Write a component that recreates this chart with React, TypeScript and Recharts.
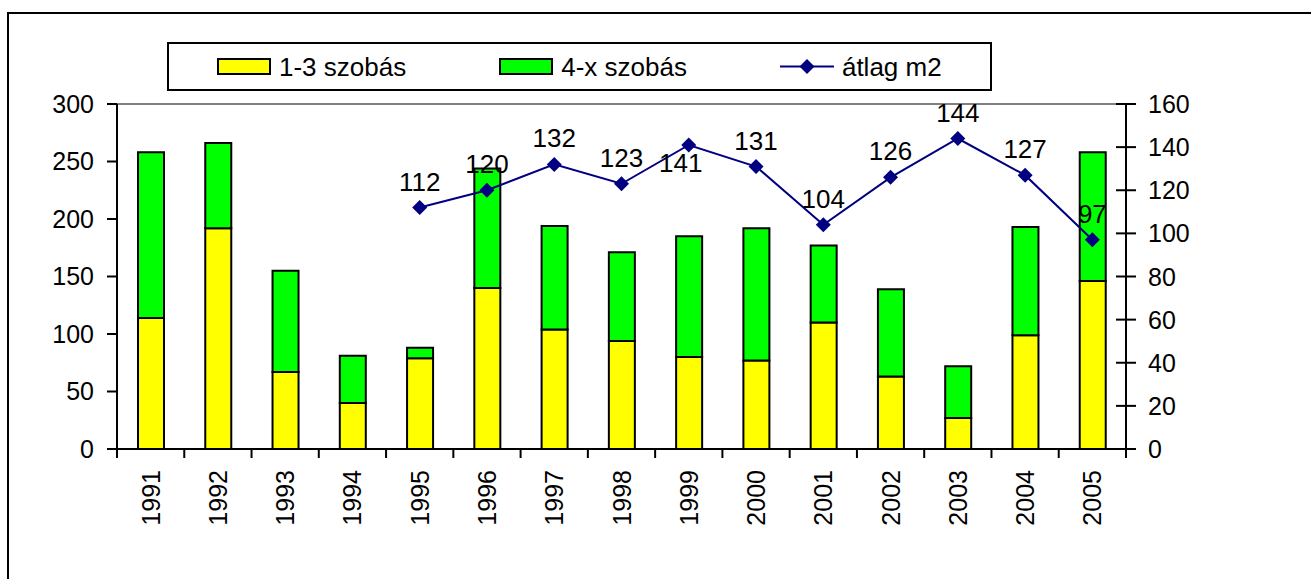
import {
  Bar,
  ComposedChart,
  LabelList,
  Legend,
  Line,
  ReferenceLine,
  XAxis,
  YAxis,
} from "recharts";

const years = [
  "1991", "1992", "1993", "1994", "1995", "1996", "1997", "1998",
  "1999", "2000", "2001", "2002", "2003", "2004", "2005",
];
// 1-3 szobás lakások
const smallFlats = [114, 192, 67, 40, 79, 140, 104, 94, 80, 77, 110, 63, 27, 99, 146];
// 4-x szobás lakások
const largeFlats = [144, 74, 88, 41, 9, 104, 90, 77, 105, 115, 67, 76, 45, 94, 112];
// átlagos alapterület (m2)
const avgArea = [null, null, null, null, 112, 120, 132, 123, 141, 131, 104, 126, 144, 127, 97];
const leftTicks = [0, 50, 100, 150, 200, 250, 300];
const rightTicks = [0, 20, 40, 60, 80, 100, 120, 140, 160];

const data = years.map((year, i) => ({
  year,
  small: smallFlats[i],
  large: largeFlats[i],
  avg: avgArea[i],
}));

const FONT = '"Liberation Sans", Arial, sans-serif';
const NAVY = "#000080";

function YearTick(props: any) {
  const { x, y, payload, index, visibleTicksCount } = props;
  const half = payload?.offset ?? 0;
  const axisY = y - 9;
  const ty = y + 12;
  return (
    <g>
      <line x1={x - half} x2={x - half} y1={axisY} y2={axisY + 9} stroke="#000" strokeWidth={2} />
      {index === visibleTicksCount - 1 && (
        <line x1={x + half} x2={x + half} y1={axisY} y2={axisY + 9} stroke="#000" strokeWidth={2} />
      )}
      <text
        x={x}
        y={ty}
        transform={`rotate(-90 ${x} ${ty})`}
        textAnchor="end"
        dy="0.36em"
        fontSize={25}
        fontFamily={FONT}
        fill="#000"
      >
        {payload.value}
      </text>
    </g>
  );
}

function RightTick(props: any) {
  const { x, y, payload } = props;
  const axisX = x - 22;
  return (
    <g>
      <line x1={axisX - 10} x2={axisX} y1={y} y2={y} stroke="#000" strokeWidth={2} />
      <text x={x} y={y} dy="0.36em" textAnchor="start" fontSize={25} fontFamily={FONT} fill="#000">
        {payload.value}
      </text>
    </g>
  );
}

function Diamond(props: any) {
  const { cx, cy, index } = props;
  if (cx == null || cy == null) return <g key={`d-${index}`} />;
  const r = 7.5;
  return (
    <polygon
      key={`d-${index}`}
      points={`${cx},${cy - r} ${cx + r},${cy} ${cx},${cy + r} ${cx - r},${cy}`}
      fill={NAVY}
    />
  );
}

function AvgLabel(props: any) {
  const { x, y, value, index } = props;
  if (value == null) return null;
  // Excel-ben az 1999-es címke a pont alá került
  const below = years[index] === "1999";
  return (
    <text
      x={below ? x - 8 : x}
      y={below ? y + 27 : y - 17}
      textAnchor="middle"
      fontSize={26}
      fontFamily={FONT}
      fill="#000"
    >
      {value}
    </text>
  );
}

function LegendBox() {
  const item = (marker: any, label: string) => (
    <div style={{ display: "flex", alignItems: "center" }}>
      {marker}
      <span style={{ marginLeft: 8, fontSize: 26, lineHeight: "26px" }}>{label}</span>
    </div>
  );
  const swatch = (color: string) => (
    <div
      style={{
        width: 54,
        height: 17,
        background: color,
        border: "2px solid #000",
        boxSizing: "border-box",
      }}
    />
  );
  return (
    <div
      style={{
        width: 825,
        height: 49,
        border: "2px solid #000",
        boxSizing: "border-box",
        display: "flex",
        alignItems: "center",
        paddingLeft: 48,
        gap: 93,
        fontFamily: FONT,
        color: "#000",
        background: "#fff",
      }}
    >
      {item(swatch("#ffff00"), "1-3 szobás")}
      {item(swatch("#00ff00"), "4-x szobás")}
      {item(
        <svg width={54} height={17}>
          <line x1={0} x2={54} y1={8.5} y2={8.5} stroke={NAVY} strokeWidth={2} />
          <polygon points="27,1 34.5,8.5 27,16 19.5,8.5" fill={NAVY} />
        </svg>,
        "átlag m2"
      )}
    </div>
  );
}

export default function App() {
  return (
    <div
      style={{
        position: "absolute",
        left: 0,
        top: 0,
        width: 1311,
        height: 579,
        overflow: "hidden",
        background: "#fff",
      }}
    >
      <div
        style={{
          position: "absolute",
          left: 7,
          top: 12,
          width: 1400,
          height: 700,
          borderLeft: "2px solid #000",
          borderTop: "2px solid #000",
        }}
      />
      <div style={{ position: "absolute", left: 0, top: 0 }}>
        <ComposedChart
          width={1311}
          height={579}
          data={data}
          margin={{ top: 104, right: 85, bottom: 0, left: 17 }}
          barSize={26}
          style={{ fontFamily: FONT }}
        >
          <XAxis
            dataKey="year"
            height={130}
            axisLine={{ stroke: "#000", strokeWidth: 2 }}
            tickLine={false}
            tickSize={9}
            tickMargin={0}
            interval={0}
            tick={<YearTick />}
          />
          <YAxis
            yAxisId="left"
            orientation="left"
            width={100}
            domain={[0, 300]}
            ticks={leftTicks}
            axisLine={{ stroke: "#000", strokeWidth: 2 }}
            tickLine={{ stroke: "#000", strokeWidth: 2 }}
            tickSize={10}
            tickMargin={13}
            tick={{ fontSize: 25, fill: "#000", fontFamily: FONT }}
          />
          <YAxis
            yAxisId="right"
            orientation="right"
            width={100}
            domain={[0, 160]}
            ticks={rightTicks}
            axisLine={{ stroke: "#000", strokeWidth: 2 }}
            tickLine={{ stroke: "#000", strokeWidth: 2 }}
            tickSize={10}
            tickMargin={12}
            tick={<RightTick />}
          />
          <ReferenceLine yAxisId="left" y={300} stroke="#808080" strokeWidth={2} />
          <Legend
            verticalAlign="middle"
            align="center"
            content={() => <LegendBox />}
            wrapperStyle={{ position: "absolute", left: 167, top: 42, width: 825, height: 49 }}
          />
          <Bar
            yAxisId="left"
            dataKey="small"
            name="1-3 szobás"
            stackId="a"
            fill="#ffff00"
            stroke="#000"
            strokeWidth={2}
            isAnimationActive={false}
          />
          <Bar
            yAxisId="left"
            dataKey="large"
            name="4-x szobás"
            stackId="a"
            fill="#00ff00"
            stroke="#000"
            strokeWidth={2}
            isAnimationActive={false}
          />
          <Line
            yAxisId="right"
            dataKey="avg"
            name="átlag m2"
            type="linear"
            stroke={NAVY}
            strokeWidth={2}
            dot={<Diamond />}
            activeDot={false}
            isAnimationActive={false}
          >
            <LabelList dataKey="avg" content={<AvgLabel />} />
          </Line>
        </ComposedChart>
      </div>
    </div>
  );
}
